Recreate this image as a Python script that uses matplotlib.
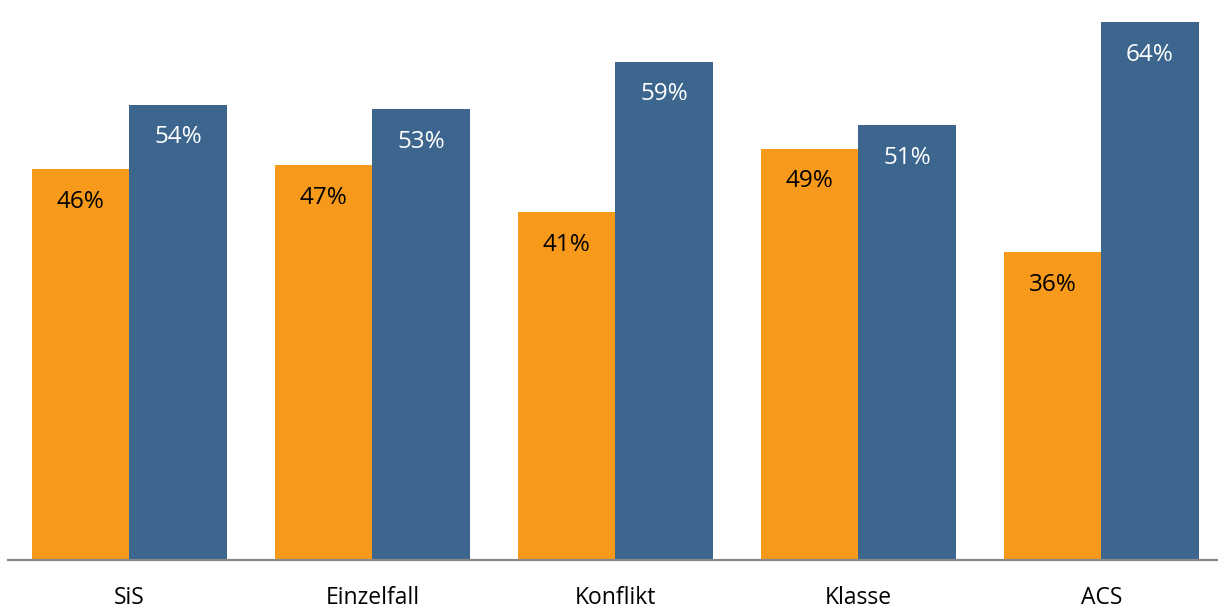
import numpy as np
import matplotlib
matplotlib.use("Agg")
import matplotlib.pyplot as plt

plt.rcParams['font.family'] = ['Open Sans', 'DejaVu Sans']

categories = ["SiS", "Einzelfall", "Konflikt", "Klasse", "ACS"]
# bar heights (labels show the rounded values)
orange_vals = [46.2, 46.7, 41.1, 48.6, 36.4]
blue_vals = [53.8, 53.3, 58.9, 51.4, 63.6]

orange = "#F7991A"
blue = "#3D668F"

fig = plt.figure(figsize=(12.18, 6.09), dpi=100)
ax = fig.add_axes([8 / 1218, 1 - 560 / 609, 1 - 8 / 1218, 560 / 609])

x = np.arange(len(categories))
w = 0.4
b1 = ax.bar(x - w / 2, orange_vals, w, color=orange)
b2 = ax.bar(x + w / 2, blue_vals, w, color=blue)

for bars, vals, c in ((b1, orange_vals, "black"), (b2, blue_vals, "white")):
    for r, v in zip(bars, vals):
        ax.annotate(f"{round(v)}%", (r.get_x() + r.get_width() / 2, v),
                    xytext=(0, -23.5), textcoords="offset points",
                    ha="center", va="center", fontsize=17.5, color=c)

ax.set_xlim(-0.5, 4.48)
ax.set_ylim(0, 560 / 8.46)
ax.set_xticks(x)
ax.set_xticklabels(categories, fontsize=16.5)
ax.tick_params(axis="x", length=0, pad=18.5)
ax.set_yticks([])
for s in ("top", "right", "left"):
    ax.spines[s].set_visible(False)
ax.spines["bottom"].set_color("#898989")
ax.spines["bottom"].set_linewidth(1.6)

fig.savefig("out.png", dpi=100)
